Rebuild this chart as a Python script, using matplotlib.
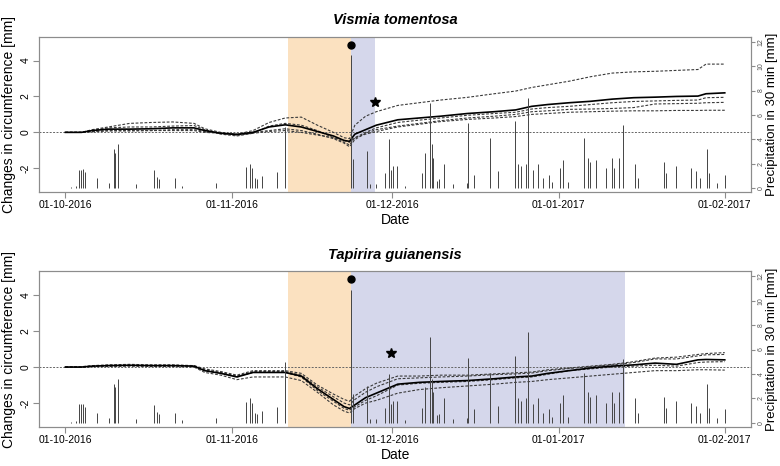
import numpy as np
import matplotlib
matplotlib.use("Agg")
import matplotlib.pyplot as plt
import matplotlib.dates as mdates

plt.rcParams['font.family'] = ['Liberation Sans', 'DejaVu Sans']

# days since 01-10-2016
knots = [0, 3, 5, 8, 12, 16, 20, 24, 26, 29, 32, 35, 38, 41, 44, 47, 50, 52, 53,
         54, 56, 58, 62, 66, 70, 75, 80, 84, 87, 90, 94, 98, 102, 106, 110, 114,
         118, 119.5, 123]

# Vismia tomentosa
vis_mean = [0, 0, 0.1, 0.18, 0.18, 0.2, 0.25, 0.25, 0.1, -0.05, -0.12, 0.0, 0.3, 0.42,
            0.3, 0.05, -0.2, -0.45, -0.5, -0.1, 0.15, 0.4, 0.7, 0.8, 0.9, 1.05, 1.15,
            1.25, 1.45, 1.55, 1.65, 1.73, 1.85, 1.93, 1.96, 2.0, 2.02, 2.15, 2.2]
vis_t1 = [0, 0, 0.15, 0.3, 0.5, 0.55, 0.58, 0.5, 0.2, 0.0, -0.1, 0.1, 0.55, 0.8, 0.85,
          0.4, 0.0, -0.3, -0.35, 0.4, 0.9, 1.15, 1.5, 1.65, 1.8, 1.95, 2.15, 2.3, 2.5,
          2.65, 2.85, 3.1, 3.3, 3.37, 3.4, 3.45, 3.5, 3.8, 3.8]
vis_t2 = [0, 0, 0.12, 0.25, 0.3, 0.3, 0.35, 0.38, 0.15, -0.1, -0.2, -0.05, 0.35, 0.5,
          0.4, 0.1, -0.3, -0.55, -0.7, -0.3, 0.0, 0.25, 0.55, 0.68, 0.8, 0.95, 1.05,
          1.12, 1.3, 1.38, 1.45, 1.55, 1.65, 1.72, 1.75, 1.78, 1.8, 1.93, 1.95]
vis_t3 = [0, 0, 0.05, 0.1, 0.1, 0.1, 0.15, 0.15, 0.05, -0.05, -0.1, 0.0, 0.1, 0.2, 0.1,
          -0.1, -0.35, -0.6, -0.8, -0.4, -0.05, 0.15, 0.35, 0.5, 0.65, 0.8, 0.9, 1.0,
          1.15, 1.2, 1.28, 1.3, 1.33, 1.38, 1.58, 1.6, 1.62, 1.65, 1.67]
vis_t4 = [0, 0, 0.03, 0.08, 0.08, 0.1, 0.1, 0.1, 0.0, -0.05, -0.15, -0.05, 0.05, 0.1,
          0.0, -0.15, -0.3, -0.45, -0.55, -0.3, -0.1, 0.05, 0.3, 0.45, 0.6, 0.72, 0.8,
          0.88, 1.0, 1.05, 1.12, 1.15, 1.18, 1.2, 1.2, 1.22, 1.22, 1.23, 1.23]

# Tapirira guianensis
tap_mean = [0, 0.0, 0.05, 0.08, 0.1, 0.08, 0.08, 0.05, -0.2, -0.35, -0.55, -0.3, -0.3,
            -0.3, -0.5, -1.2, -1.8, -2.2, -2.3, -2.1, -1.7, -1.45, -0.95, -0.85, -0.8,
            -0.75, -0.65, -0.55, -0.5, -0.35, -0.2, -0.05, 0.05, 0.12, 0.22, 0.15, 0.4,
            0.42, 0.4]
tap_t1 = [0, 0.02, 0.08, 0.12, 0.15, 0.12, 0.12, 0.08, -0.1, -0.25, -0.45, -0.2, -0.2,
          -0.2, -0.35, -1.0, -1.5, -1.8, -1.9, -1.6, -1.2, -0.9, -0.5, -0.5, -0.45,
          -0.45, -0.38, -0.32, -0.28, -0.15, -0.05, 0.05, 0.15, 0.3, 0.5, 0.55, 0.7,
          0.75, 0.8]
tap_t2 = [0, 0.0, 0.05, 0.1, 0.1, 0.1, 0.1, 0.07, -0.15, -0.3, -0.5, -0.25, -0.25,
          -0.25, -0.45, -1.1, -1.65, -2.0, -2.1, -1.8, -1.4, -1.1, -0.65, -0.6, -0.55,
          -0.5, -0.42, -0.38, -0.33, -0.2, -0.08, 0.02, 0.12, 0.25, 0.45, 0.45, 0.62,
          0.68, 0.7]
tap_t3 = [0, 0, 0.04, 0.06, 0.08, 0.06, 0.06, 0.04, -0.2, -0.35, -0.55, -0.3, -0.3,
          -0.3, -0.55, -1.3, -1.9, -2.3, -2.4, -2.2, -1.85, -1.6, -1.0, -0.9, -0.85,
          -0.8, -0.7, -0.6, -0.55, -0.4, -0.2, -0.1, 0.0, 0.05, 0.1, 0.05, 0.25, 0.28,
          0.3]
tap_t4 = [0, -0.02, 0.02, 0.03, 0.05, 0.03, 0.03, 0.0, -0.3, -0.45, -0.7, -0.55, -0.55,
          -0.55, -0.75, -1.4, -2.1, -2.45, -2.55, -2.3, -2.0, -1.85, -1.45, -1.25,
          -1.15, -1.05, -0.95, -0.85, -0.8, -0.7, -0.6, -0.5, -0.4, -0.3, -0.2, -0.2,
          -0.15, -0.15, -0.17]

# precipitation events (day, mm in 30 min)
rain_day = [1.0, 2.0, 2.6, 2.9, 3.2, 3.6, 5.9, 8.2, 9.0, 9.3, 9.8, 13.1, 16.5, 17.0,
            17.4, 20.4, 21.7, 28.1, 33.6, 34.5, 34.8, 35.4, 35.7, 36.6, 39.5, 41.0,
            53.2, 53.6, 56.2, 56.9, 57.9, 59.7, 60.3, 60.7, 61.2, 61.8, 63.3, 66.5,
            67.0, 68.0, 68.4, 68.5, 69.3, 69.7, 70.6, 72.3, 74.9, 75.1, 76.2, 79.2,
            80.7, 83.9, 84.5, 85.0, 86.0, 86.3, 87.3, 88.2, 89.1, 90.3, 90.8, 92.3,
            92.9, 93.8, 96.8, 97.4, 97.9, 98.9, 100.9, 101.9, 102.4, 103.2, 104.1,
            106.2, 106.9, 111.6, 112.0, 113.9, 116.7, 117.6, 118.4, 119.7, 120.0,
            121.5, 123.0]
rain_mm = [0.1, 0.15, 1.5, 1.5, 1.55, 1.3, 0.8, 0.4, 3.2, 2.9, 3.6, 0.3, 1.45, 0.9,
           0.7, 0.8, 0.2, 0.4, 1.7, 2.0, 1.6, 0.8, 0.7, 1.0, 1.3, 5.0, 10.9, 2.4, 3.0,
           0.3, 0.3, 1.2, 4.0, 1.5, 1.8, 1.8, 0.2, 1.2, 2.9, 7.0, 3.6, 2.5, 0.6, 0.7,
           2.0, 0.3, 0.4, 5.3, 1.1, 4.1, 1.4, 5.5, 2.0, 1.8, 2.0, 7.4, 1.5, 2.0, 0.8,
           1.1, 0.5, 1.6, 2.3, 0.5, 4.1, 2.5, 2.1, 2.3, 1.6, 2.5, 1.6, 2.5, 5.2, 2.0,
           0.8, 2.1, 1.2, 1.8, 1.6, 1.4, 0.8, 3.2, 1.2, 0.4, 1.1]

tick_days = [0, 31, 61, 92, 123]
tick_labels = ['01-10-2016', '01-11-2016', '01-12-2016', '01-01-2017', '01-02-2017']

panels = [
    dict(title='Vismia tomentosa', mean=vis_mean, trees=[vis_t1, vis_t2, vis_t3, vis_t4],
         dry=(41.6, 53.2), wet=(53.2, 57.7), dot=(53.2, 4.85), star=(57.7, 1.68)),
    dict(title='Tapirira guianensis', mean=tap_mean, trees=[tap_t1, tap_t2, tap_t3, tap_t4],
         dry=(41.6, 53.2), wet=(53.2, 104.3), dot=(53.2, 4.9), star=(60.7, 0.79)),
]

t0 = mdates.date2num(np.datetime64('2016-10-01'))
kx = t0 + np.array(knots)
pad = 123 * 0.04

fig = plt.figure(figsize=(7.8, 4.66), dpi=100)
positions = [[0.05, 0.588, 0.913, 0.333], [0.05, 0.084, 0.913, 0.334]]
gray = '#8c8c8c'

for p, pos in zip(panels, positions):
    ax = fig.add_axes(pos)
    ax.axvspan(t0 + p['dry'][0], t0 + p['dry'][1], color='#fbe1c0', lw=0, zorder=0)
    ax.axvspan(t0 + p['wet'][0], t0 + p['wet'][1], color='#d5d7eb', lw=0, zorder=0)
    ax.axhline(0, color='#666666', lw=0.7, ls=(0, (2, 1.5)), zorder=1)
    for tr in p['trees']:
        ax.plot(kx, tr, color='#3a3a3a', lw=0.8, ls=(0, (2.5, 1.5)), zorder=2)
    ax.plot(kx, p['mean'], color='black', lw=1.2, zorder=3)
    ax.plot(t0 + p['dot'][0], p['dot'][1], 'o', color='black', ms=5, zorder=5)
    ax.plot(t0 + p['star'][0], p['star'][1], '*', color='black', ms=7, zorder=5)

    ax.set_xlim(t0 - pad, t0 + 123 + pad)
    ax.set_ylim(-3.32, 5.32)
    ax.set_yticks([-2, 0, 2, 4])
    ax.set_yticklabels(['-2', '0', '2', '4'], rotation=90, va='center', fontsize=7.5)
    ax.set_xticks([t0 + d for d in tick_days])
    ax.set_xticklabels(tick_labels, fontsize=7.5)
    ax.tick_params(length=4, color=gray, pad=2)
    ax.set_xlabel('Date', fontsize=10, labelpad=2)
    ax.set_ylabel('Changes in circumference [mm]', fontsize=10, labelpad=3)
    for s in ax.spines.values():
        s.set_color(gray)
    ax.set_title(p['title'], fontsize=10.5, fontweight='bold', style='italic', pad=9)

    ax2 = ax.twinx()
    ax2.vlines(t0 + np.array(rain_day), 0, rain_mm, color='#444444', lw=0.7, zorder=4)
    ax2.set_ylim(-0.33, 12.41)
    ax2.set_yticks(range(0, 13, 2))
    ax2.set_yticklabels([str(v) for v in range(0, 13, 2)], rotation=90, va='center',
                        fontsize=5, color='#555555')
    ax2.tick_params(length=3, color=gray, pad=1.5)
    ax2.set_ylabel('Precipitation in 30 min [mm]', fontsize=9.5, labelpad=1)
    for s in ax2.spines.values():
        s.set_color(gray)

fig.savefig('out.png', dpi=100)
